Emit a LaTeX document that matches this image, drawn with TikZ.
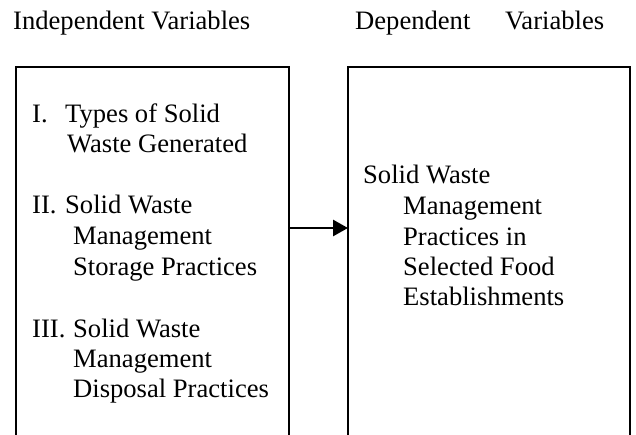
\documentclass[tikz,border=0pt]{standalone}
\usepackage{fontspec}
\setmainfont{Liberation Serif}
\usetikzlibrary{arrows.meta}
\begin{document}
\begin{tikzpicture}[x=1pt,y=-1pt,
  txt/.style={anchor=base west,inner sep=0pt,font=\fontsize{26.6}{30}\selectfont},
  boxline/.style={line width=2pt},
  arr/.style={line width=2.8pt,-{Triangle[length=15pt,width=16pt]}}]
\useasboundingbox (0,0) rectangle (636,434);
% headings
\node[txt] (indep) at (13,29.3) {Independent Variables};
\node[txt] (dep1) at (355,29.3) {Dependent};
\node[txt] (dep2) at (505,29.3) {Variables};
% box corners (open at bottom)
\coordinate (lbl) at (16,436);
\coordinate (ltl) at (16,67);
\coordinate (ltr) at (289,67);
\coordinate (lbr) at (289,436);
\coordinate (rbl) at (348,436);
\coordinate (rtl) at (348,67);
\coordinate (rtr) at (630,67);
\coordinate (rbr) at (630,436);
\draw[boxline] (lbl) -- (ltl) -- (ltr) -- (lbr);
\draw[boxline] (rbl) -- (rtl) -- (rtr) -- (rbr);
% left box text
\node[txt] (a1) at (32,122) {I.};
\node[txt] (a2) at (65,122) {Types of Solid};
\node[txt] (a3) at (67,152) {Waste Generated};
\node[txt] (b1) at (32,213) {II.};
\node[txt] (b2) at (65,213) {Solid Waste};
\node[txt] (b3) at (73,244) {Management};
\node[txt] (b4) at (73,275) {Storage Practices};
\node[txt] (c1) at (32,337) {III.};
\node[txt] (c2) at (73,337) {Solid Waste};
\node[txt] (c3) at (73,367) {Management};
\node[txt] (c4) at (73,397) {Disposal Practices};
% right box text
\node[txt] (d1) at (363,183) {Solid Waste};
\node[txt] (d2) at (403,214) {Management};
\node[txt] (d3) at (403,245) {Practices in};
\node[txt] (d4) at (403,275) {Selected Food};
\node[txt] (d5) at (403,305) {Establishments};
% arrow
\coordinate (arrs) at (289,228);
\coordinate (arre) at (348,228);
\draw[arr] (arrs) -- (arre);
\end{tikzpicture}
\end{document}
